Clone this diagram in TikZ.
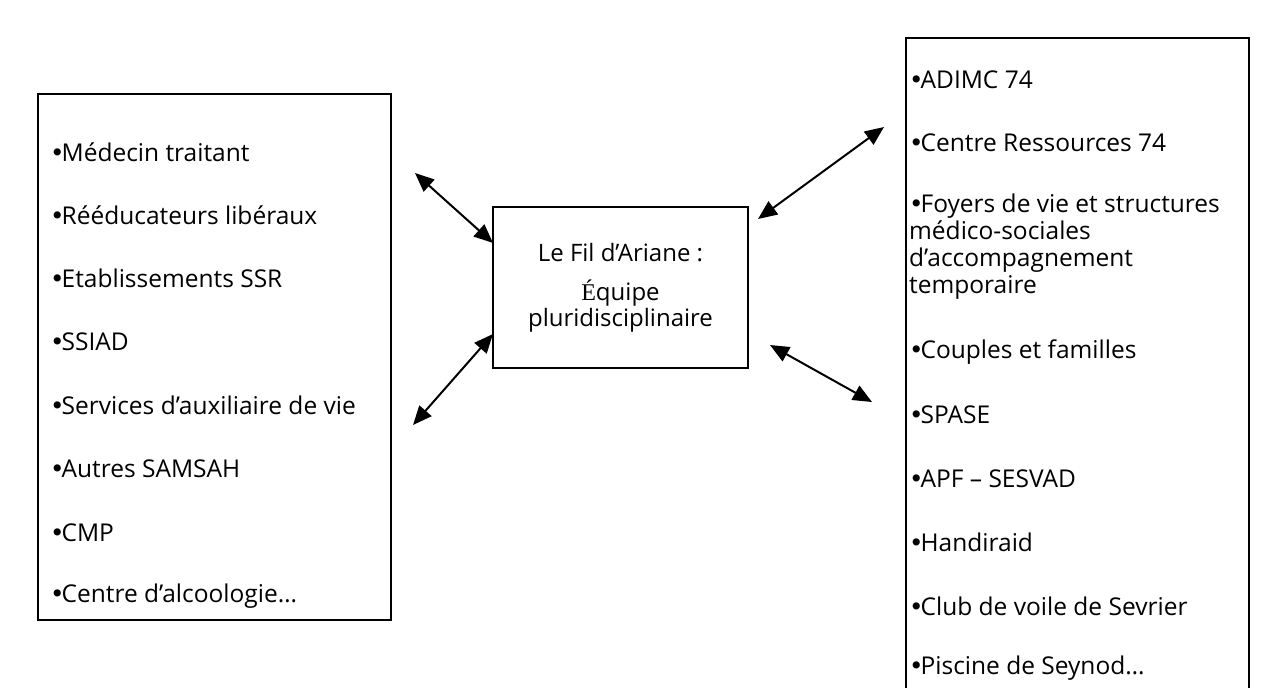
\documentclass[tikz,border=0pt]{standalone}
\usepackage{fontspec}
\setmainfont{Open Sans}
\newfontfamily\accfont{Liberation Serif}
\newfontfamily\pucefont{DejaVu Sans}
\newcommand\puce{{\pucefont •}\kern-3pt}
\usetikzlibrary{arrows.meta}
\begin{document}
\begin{tikzpicture}[x=1pt,y=-1pt,
		cadre/.style={line width=2pt},
		item/.style={anchor=west,inner sep=0pt,font=\fontsize{24.5}{27}\selectfont},
		lien/.style={line width=2pt,{Triangle[length=19pt,width=16pt]}-{Triangle[length=19pt,width=16pt]}}]
	\useasboundingbox (0,0) rectangle (1288,688);
	% cadres
	\draw[cadre] (38,94) rectangle (391,620);
	\draw[cadre] (906,688) -- (906,38) -- (1249,38) -- (1249,688);
	\node[draw,cadre,minimum width=255pt,minimum height=161pt,align=center,
		font=\fontsize{24}{26}\selectfont] (fil) at (620.5,287.5)
		{Le Fil d’Ariane :\\[13pt]{\accfont É}quipe\\pluridisciplinaire};
	% partenaires de gauche
	\foreach \t [count=\i] in {Médecin traitant,Rééducateurs libéraux,Etablissements SSR,SSIAD,
		Services d’auxiliaire de vie,Autres SAMSAH,CMP,Centre d’alcoologie…}
	\node[item] (g\i) at (50,{152+63.4*(\i-1)}) {\puce\t};
	% partenaires de droite
	\foreach \t/\yy [count=\i] in {ADIMC 74/80,Centre Ressources 74/143,Couples et familles/352,
		SPASE/415,APF – SESVAD/479,Handiraid/542,Club de voile de Sevrier/606,Piscine de Seynod…/668}
	\node[item] (d\i) at (909,\yy) {\puce\t};
	\node[item,anchor=north west,align=left] (foyers) at (909,194)
		{\puce Foyers de vie et structures\\médico-sociales\\d’accompagnement\\temporaire};
	% liens
	\path (415,173) coordinate (g-haut)
		(493,243) coordinate (fil-g1)
		(493,334) coordinate (fil-g2)
		(413,425) coordinate (g-bas)
		(884,127) coordinate (d-haut)
		(758,219) coordinate (fil-d1)
		(770,345) coordinate (fil-d2)
		(872,402) coordinate (d-bas);
	\draw[lien] (g-haut) -- (fil-g1);
	\draw[lien] (fil-g2) -- (g-bas);
	\draw[lien] (d-haut) -- (fil-d1);
	\draw[lien] (fil-d2) -- (d-bas);
\end{tikzpicture}
\end{document}
